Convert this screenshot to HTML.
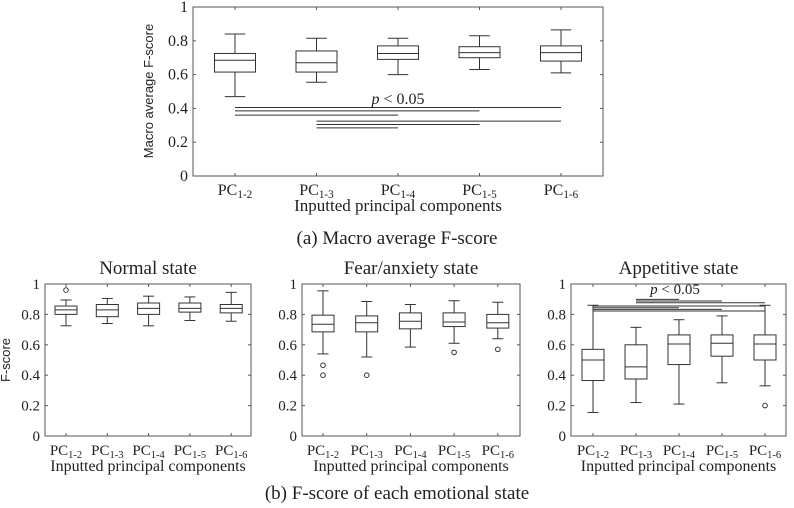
<!DOCTYPE html>
<html><head><meta charset="utf-8"><style>
body{margin:0;background:#fff}
svg{display:block}
text{font-family:"Liberation Serif",serif;fill:#222}
.sans{font-family:"Liberation Sans",sans-serif}
</style></head><body>
<svg id="fig" width="794" height="508" viewBox="0 0 794 508"></svg>
<script>
const categories = ["1-2","1-3","1-4","1-5","1-6"];
const tickLabels = ["0","0.2","0.4","0.6","0.8","1"];
// [lowWhisker, q1, median, q3, highWhisker]
const macroBoxes = [[0.47,0.615,0.685,0.725,0.84],[0.555,0.615,0.67,0.74,0.815],[0.60,0.69,0.725,0.77,0.815],[0.63,0.70,0.73,0.765,0.83],[0.61,0.68,0.73,0.77,0.865]];
const macroOutliers = [[],[],[],[],[]];
const normalBoxes = [[0.725,0.80,0.83,0.855,0.895],[0.74,0.785,0.83,0.865,0.905],[0.725,0.80,0.84,0.875,0.92],[0.76,0.815,0.84,0.875,0.915],[0.755,0.81,0.84,0.865,0.945]];
const normalOutliers = [[0.96],[],[],[],[]];
const fearBoxes = [[0.54,0.685,0.735,0.795,0.955],[0.52,0.685,0.745,0.79,0.885],[0.585,0.705,0.755,0.81,0.865],[0.61,0.72,0.75,0.81,0.89],[0.64,0.71,0.745,0.80,0.88]];
const fearOutliers = [[0.465,0.40],[0.40],[],[0.55],[0.57]];
const appBoxes = [[0.155,0.365,0.50,0.57,0.86],[0.22,0.375,0.455,0.60,0.715],[0.21,0.47,0.605,0.665,0.765],[0.35,0.525,0.61,0.665,0.79],[0.33,0.50,0.605,0.665,0.86]];
const appOutliers = [[],[],[],[],[0.20]];
// significance: [fromIndex, toIndex, yValue]
const macroSig = [[0,4,0.405],[0,3,0.385],[0,2,0.36],[1,4,0.325],[1,3,0.305],[1,2,0.285]];
const appSig = [[1,2,0.899],[1,3,0.888],[1,4,0.877],[0,4,0.855],[0,2,0.844],[0,3,0.833],[0,4,0.822]];

const NS="http://www.w3.org/2000/svg";
const svg=document.getElementById('fig');
function mk(tag,attrs,parent){const e=document.createElementNS(NS,tag);for(const k in attrs)e.setAttribute(k,attrs[k]);(parent||svg).appendChild(e);return e;}

function chart(o){
  const g=mk('g',{});
  
  
  const y=v=>o.bottom-(o.bottom-o.top)*v;
  const x=i=>o.first+i*o.step;
  const ax=mk('rect',{x:o.left,y:o.top,width:o.right-o.left,height:o.bottom-o.top,fill:'none',stroke:'#555','stroke-width':1},g);
  
  
  tickLabels.forEach((t,i)=>{
    const v=i/5;
    mk('line',{x1:o.left,x2:o.left+3,y1:y(v),y2:y(v),stroke:'#555'},g);
    mk('line',{x1:o.right,x2:o.right-3,y1:y(v),y2:y(v),stroke:'#555'},g);
    const tx=mk('text',{x:o.left-5,y:y(v)+5,'text-anchor':'end','font-size':o.fs},g);
    tx.textContent=t;
    
    
  });
  categories.forEach((c,i)=>{
    mk('line',{x1:x(i),x2:x(i),y1:o.bottom,y2:o.bottom-3,stroke:'#555'},g);
    mk('line',{x1:x(i),x2:x(i),y1:o.top,y2:o.top+3,stroke:'#555'},g);
    const tx=mk('text',{x:x(i),y:o.bottom+19,'text-anchor':'middle','font-size':o.fs},g);
    tx.innerHTML='PC<tspan font-size="'+(o.fs*0.7)+'" dy="3">'+c+'</tspan>';
    
    
    const b=o.boxes[i], w=o.bw, cx=x(i);
    const bg=mk('g',{stroke:'#333','stroke-width':1,fill:'none'},g);
    
    
    mk('line',{x1:cx,x2:cx,y1:y(b[0]),y2:y(b[1])},bg);
    mk('line',{x1:cx,x2:cx,y1:y(b[3]),y2:y(b[4])},bg);
    mk('line',{x1:cx-w/4,x2:cx+w/4,y1:y(b[0]),y2:y(b[0])},bg);
    mk('line',{x1:cx-w/4,x2:cx+w/4,y1:y(b[4]),y2:y(b[4])},bg);
    mk('rect',{x:cx-w/2,y:y(b[3]),width:w,height:y(b[1])-y(b[3])},bg);
    mk('line',{x1:cx-w/2,x2:cx+w/2,y1:y(b[2]),y2:y(b[2])},bg);
    o.outliers[i].forEach(v=>{
      const c2=mk('circle',{cx:cx,cy:y(v),r:2.3,fill:'none',stroke:'#333'},g);
      
      
    });
  });
  (o.sig||[]).forEach(s=>{
    const l=mk('line',{x1:x(s[0]),x2:x(s[1]),y1:y(s[2]),y2:y(s[2]),stroke:'#333','stroke-width':1},g);
    
    
  });
  if(o.p){const t=mk('text',{x:o.p[0],y:o.p[1],'text-anchor':'middle','font-size':o.fs},g);
    t.innerHTML='<tspan font-style="italic">p</tspan> &lt; 0.05';
    
    }
  const xl=mk('text',{x:(o.left+o.right)/2,y:o.bottom+35,'text-anchor':'middle','font-size':o.fs+1},g);
  xl.textContent='Inputted principal components';
  
  
  if(o.title){const t=mk('text',{x:(o.left+o.right)/2,y:o.top-10,'text-anchor':'middle','font-size':19},g);
    t.textContent=o.title;
    
    }
  if(o.ylab){const t=mk('text',{x:0,y:0,'text-anchor':'middle','font-size':13,class:'sans',transform:'translate('+o.ylab[0]+','+o.ylab[1]+') rotate(-90)'},g);
    t.textContent=o.ylab[2];
    
    }
}
chart({name:'macro-chart',left:193,right:603,top:7,bottom:176,first:235,step:81.5,bw:41,fs:16,boxes:macroBoxes,outliers:macroOutliers,sig:macroSig,p:[398,104],ylab:[153,91,'Macro average F-score']});
chart({name:'normal-chart',left:45,right:251,top:284,bottom:436,first:66,step:41.3,bw:22,fs:15,boxes:normalBoxes,outliers:normalOutliers,title:'Normal state',ylab:[10,360,'F-score']});
chart({name:'fear-chart',left:302,right:520,top:284,bottom:436,first:323,step:43.7,bw:22,fs:15,boxes:fearBoxes,outliers:fearOutliers,title:'Fear/anxiety state'});
chart({name:'appetitive-chart',left:571,right:786,top:284,bottom:436,first:593,step:43,bw:22,fs:15,boxes:appBoxes,outliers:appOutliers,sig:appSig,p:[675,294],title:'Appetitive state'});
const c1=mk('text',{x:397,y:244,'text-anchor':'middle','font-size':19});
c1.textContent='(a) Macro average F-score';


const c2=mk('text',{x:397,y:499,'text-anchor':'middle','font-size':19});
c2.textContent='(b) F-score of each emotional state';


</script>
</body></html>
